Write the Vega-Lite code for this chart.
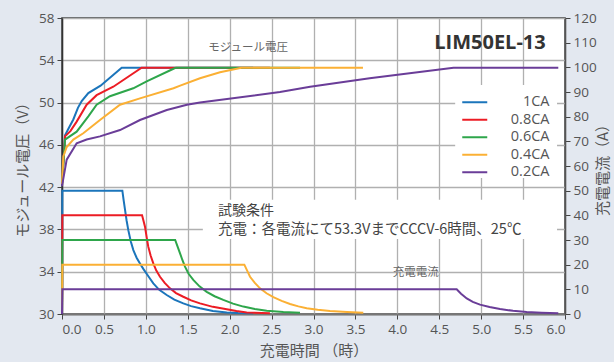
{
  "$schema": "https://vega.github.io/schema/vega-lite/v6.json",
  "width": 503,
  "height": 296,
  "autosize": {"type": "none"},
  "padding": {"left": 62, "top": 18, "right": 49, "bottom": 48},
  "background": "#e3e8f0",
  "datasets": {
    "voltage": [
      {"c": "1CA", "t": 0, "v": 42.3}, {"c": "1CA", "t": 0.036, "v": 46.9}, {"c": "1CA", "t": 0.075, "v": 47.5},
      {"c": "1CA", "t": 0.135, "v": 48.4}, {"c": "1CA", "t": 0.19, "v": 49.5}, {"c": "1CA", "t": 0.235, "v": 50.15},
      {"c": "1CA", "t": 0.314, "v": 50.9}, {"c": "1CA", "t": 0.46, "v": 51.6}, {"c": "1CA", "t": 0.712, "v": 53.3},
      {"c": "1CA", "t": 2.28, "v": 53.3},

      {"c": "0.8CA", "t": 0, "v": 42.3}, {"c": "0.8CA", "t": 0.036, "v": 46.8}, {"c": "0.8CA", "t": 0.1, "v": 47.3},
      {"c": "0.8CA", "t": 0.175, "v": 48.2}, {"c": "0.8CA", "t": 0.294, "v": 49.8}, {"c": "0.8CA", "t": 0.413, "v": 50.7},
      {"c": "0.8CA", "t": 0.612, "v": 51.5}, {"c": "0.8CA", "t": 0.95, "v": 53.3}, {"c": "0.8CA", "t": 2.48, "v": 53.3},

      {"c": "0.6CA", "t": 0, "v": 42.3}, {"c": "0.6CA", "t": 0.036, "v": 46.5}, {"c": "0.6CA", "t": 0.175, "v": 47.25},
      {"c": "0.6CA", "t": 0.314, "v": 48.7}, {"c": "0.6CA", "t": 0.413, "v": 49.8}, {"c": "0.6CA", "t": 0.572, "v": 50.6},
      {"c": "0.6CA", "t": 0.85, "v": 51.35}, {"c": "0.6CA", "t": 1.01, "v": 52.0}, {"c": "0.6CA", "t": 1.33, "v": 53.2},
      {"c": "0.6CA", "t": 1.36, "v": 53.3}, {"c": "0.6CA", "t": 2.84, "v": 53.3},

      {"c": "0.4CA", "t": 0, "v": 42.3}, {"c": "0.4CA", "t": 0.016, "v": 44.9}, {"c": "0.4CA", "t": 0.056, "v": 45.8},
      {"c": "0.4CA", "t": 0.135, "v": 46.5}, {"c": "0.4CA", "t": 0.254, "v": 47.1}, {"c": "0.4CA", "t": 0.453, "v": 48.35},
      {"c": "0.4CA", "t": 0.692, "v": 49.8}, {"c": "0.4CA", "t": 0.93, "v": 50.4}, {"c": "0.4CA", "t": 1.33, "v": 51.35},
      {"c": "0.4CA", "t": 1.41, "v": 51.6}, {"c": "0.4CA", "t": 1.646, "v": 52.3}, {"c": "0.4CA", "t": 1.885, "v": 52.86},
      {"c": "0.4CA", "t": 2.14, "v": 53.3}, {"c": "0.4CA", "t": 3.59, "v": 53.3},

      {"c": "0.2CA", "t": 0, "v": 42.1}, {"c": "0.2CA", "t": 0.056, "v": 44.6}, {"c": "0.2CA", "t": 0.175, "v": 46.15},
      {"c": "0.2CA", "t": 0.294, "v": 46.5}, {"c": "0.2CA", "t": 0.453, "v": 46.8}, {"c": "0.2CA", "t": 0.692, "v": 47.4},
      {"c": "0.2CA", "t": 0.93, "v": 48.35}, {"c": "0.2CA", "t": 1.25, "v": 49.3}, {"c": "0.2CA", "t": 1.49, "v": 49.8},
      {"c": "0.2CA", "t": 1.646, "v": 50.0}, {"c": "0.2CA", "t": 2.6, "v": 51.0}, {"c": "0.2CA", "t": 2.96, "v": 51.5},
      {"c": "0.2CA", "t": 3.67, "v": 52.3}, {"c": "0.2CA", "t": 4.67, "v": 53.3}, {"c": "0.2CA", "t": 5.92, "v": 53.3}
    ],
    "current": [
      {"c": "1CA", "t": 0, "a": 0}, {"c": "1CA", "t": 0.004, "a": 50}, {"c": "1CA", "t": 0.72, "a": 50},
      {"c": "1CA", "t": 0.736, "a": 46}, {"c": "1CA", "t": 0.752, "a": 42.2}, {"c": "1CA", "t": 0.77, "a": 38},
      {"c": "1CA", "t": 0.791, "a": 34.0}, {"c": "1CA", "t": 0.82, "a": 29.5}, {"c": "1CA", "t": 0.851, "a": 25.9},
      {"c": "1CA", "t": 0.89, "a": 22.8}, {"c": "1CA", "t": 0.93, "a": 20.5}, {"c": "1CA", "t": 0.97, "a": 18.3},
      {"c": "1CA", "t": 1.03, "a": 15.3}, {"c": "1CA", "t": 1.089, "a": 12.4}, {"c": "1CA", "t": 1.16, "a": 9.8},
      {"c": "1CA", "t": 1.249, "a": 7.7}, {"c": "1CA", "t": 1.34, "a": 5.8}, {"c": "1CA", "t": 1.447, "a": 4.3},
      {"c": "1CA", "t": 1.54, "a": 3.2}, {"c": "1CA", "t": 1.646, "a": 2.3}, {"c": "1CA", "t": 1.8, "a": 1.2},
      {"c": "1CA", "t": 1.965, "a": 0.6}, {"c": "1CA", "t": 2.1, "a": 0.4}, {"c": "1CA", "t": 2.28, "a": 0.3},

      {"c": "0.8CA", "t": 0, "a": 0}, {"c": "0.8CA", "t": 0.004, "a": 40}, {"c": "0.8CA", "t": 0.955, "a": 40},
      {"c": "0.8CA", "t": 0.972, "a": 37.8}, {"c": "0.8CA", "t": 0.99, "a": 35.4}, {"c": "0.8CA", "t": 1.009, "a": 31.3},
      {"c": "0.8CA", "t": 1.029, "a": 27.3}, {"c": "0.8CA", "t": 1.058, "a": 23.6}, {"c": "0.8CA", "t": 1.089, "a": 20.5},
      {"c": "0.8CA", "t": 1.125, "a": 17.6}, {"c": "0.8CA", "t": 1.169, "a": 15.1}, {"c": "0.8CA", "t": 1.225, "a": 12.6},
      {"c": "0.8CA", "t": 1.288, "a": 10.4}, {"c": "0.8CA", "t": 1.36, "a": 8.5}, {"c": "0.8CA", "t": 1.447, "a": 7.0},
      {"c": "0.8CA", "t": 1.54, "a": 5.5}, {"c": "0.8CA", "t": 1.646, "a": 4.3}, {"c": "0.8CA", "t": 1.8, "a": 2.9},
      {"c": "0.8CA", "t": 1.965, "a": 1.9}, {"c": "0.8CA", "t": 2.08, "a": 1.2}, {"c": "0.8CA", "t": 2.203, "a": 0.6},
      {"c": "0.8CA", "t": 2.48, "a": 0.3},

      {"c": "0.6CA", "t": 0, "a": 0}, {"c": "0.6CA", "t": 0.004, "a": 30}, {"c": "0.6CA", "t": 1.35, "a": 30},
      {"c": "0.6CA", "t": 1.38, "a": 27.2}, {"c": "0.6CA", "t": 1.408, "a": 24.6}, {"c": "0.6CA", "t": 1.437, "a": 21.8},
      {"c": "0.6CA", "t": 1.467, "a": 19.2}, {"c": "0.6CA", "t": 1.51, "a": 16.3}, {"c": "0.6CA", "t": 1.566, "a": 13.8},
      {"c": "0.6CA", "t": 1.64, "a": 11.2}, {"c": "0.6CA", "t": 1.726, "a": 9.0}, {"c": "0.6CA", "t": 1.82, "a": 7.2},
      {"c": "0.6CA", "t": 1.924, "a": 5.7}, {"c": "0.6CA", "t": 2.04, "a": 4.2}, {"c": "0.6CA", "t": 2.163, "a": 3.0},
      {"c": "0.6CA", "t": 2.3, "a": 2.0}, {"c": "0.6CA", "t": 2.442, "a": 1.3}, {"c": "0.6CA", "t": 2.64, "a": 0.8},
      {"c": "0.6CA", "t": 2.839, "a": 0.5},

      {"c": "0.4CA", "t": 0, "a": 0}, {"c": "0.4CA", "t": 0.004, "a": 20}, {"c": "0.4CA", "t": 2.175, "a": 20},
      {"c": "0.4CA", "t": 2.21, "a": 17.5}, {"c": "0.4CA", "t": 2.243, "a": 15.1}, {"c": "0.4CA", "t": 2.3, "a": 12.6},
      {"c": "0.4CA", "t": 2.362, "a": 10.4}, {"c": "0.4CA", "t": 2.44, "a": 8.4}, {"c": "0.4CA", "t": 2.521, "a": 6.8},
      {"c": "0.4CA", "t": 2.62, "a": 5.3}, {"c": "0.4CA", "t": 2.72, "a": 4.05}, {"c": "0.4CA", "t": 2.82, "a": 3.1},
      {"c": "0.4CA", "t": 2.919, "a": 2.3}, {"c": "0.4CA", "t": 3.05, "a": 1.7}, {"c": "0.4CA", "t": 3.197, "a": 1.2},
      {"c": "0.4CA", "t": 3.4, "a": 0.8}, {"c": "0.4CA", "t": 3.594, "a": 0.5},

      {"c": "0.2CA", "t": 0, "a": 0}, {"c": "0.2CA", "t": 0.004, "a": 10}, {"c": "0.2CA", "t": 4.708, "a": 10},
      {"c": "0.2CA", "t": 4.76, "a": 8.2}, {"c": "0.2CA", "t": 4.828, "a": 6.3}, {"c": "0.2CA", "t": 4.9, "a": 4.9},
      {"c": "0.2CA", "t": 4.986, "a": 3.8}, {"c": "0.2CA", "t": 5.1, "a": 2.8}, {"c": "0.2CA", "t": 5.225, "a": 2.0},
      {"c": "0.2CA", "t": 5.38, "a": 1.3}, {"c": "0.2CA", "t": 5.543, "a": 0.8}, {"c": "0.2CA", "t": 5.72, "a": 0.5},
      {"c": "0.2CA", "t": 5.92, "a": 0.3}
    ]
  },
  "layer": [
    {
      "data": {"values": [{}]},
      "mark": {"type": "rect", "fill": "white"},
      "encoding": {
        "x": {"datum": 4.69, "type": "quantitative", "title": "充電時間 （時）"},
        "x2": {"datum": 5.905},
        "y": {"datum": 51.66, "type": "quantitative", "scale": {"domain": [30, 58], "nice": false, "zero": false}, "axis": null},
        "y2": {"datum": 42.86}
      }
    },
    {
      "data": {"values": [{}]},
      "mark": {"type": "rect", "fill": "white"},
      "encoding": {
        "x": {"datum": 1.68, "type": "quantitative", "title": "充電時間 （時）"},
        "x2": {"datum": 5.905},
        "y": {"datum": 40.8, "type": "quantitative", "scale": {"domain": [30, 58], "nice": false, "zero": false}, "axis": null},
        "y2": {"datum": 37.1}
      }
    },
    {
      "data": {"name": "voltage"},
      "mark": {"type": "line", "strokeWidth": 2},
      "encoding": {
        "x": {
          "field": "t", "type": "quantitative", "title": "充電時間 （時）",
          "scale": {"domain": [0, 6], "nice": false},
          "axis": {"grid": true, "values": [0, 0.5, 1, 1.5, 2, 2.5, 3, 3.5, 4, 4.5, 5, 5.5, 6], "format": ".1f"}
        },
        "y": {
          "field": "v", "type": "quantitative", "title": "モジュール電圧（V）",
          "scale": {"domain": [30, 58], "nice": false, "zero": false},
          "axis": {"grid": true, "values": [30, 34, 38, 42, 46, 50, 54, 58]}
        },
        "color": {
          "field": "c", "type": "nominal", "title": null,
          "scale": {
            "domain": ["1CA", "0.8CA", "0.6CA", "0.4CA", "0.2CA"],
            "range": ["#1b75bb", "#ec1c24", "#2ea64b", "#fbb034", "#6a3d98"]
          }
        }
      }
    },
    {
      "data": {"values": [{}]},
      "mark": {"type": "text", "text": "モジュール電圧", "font": "Noto Sans CJK JP", "fontSize": 11.5, "color": "#666", "align": "center", "baseline": "middle"},
      "encoding": {
        "x": {"datum": 2.22, "type": "quantitative", "title": "充電時間 （時）"},
        "y": {"datum": 55.2, "type": "quantitative", "scale": {"domain": [30, 58], "nice": false, "zero": false}, "axis": null}
      }
    },
    {
      "data": {"values": [{}]},
      "mark": {"type": "text", "text": "充電電流", "font": "Noto Sans CJK JP", "fontSize": 11.5, "color": "#666", "align": "center", "baseline": "middle"},
      "encoding": {
        "x": {"datum": 4.22, "type": "quantitative", "title": "充電時間 （時）"},
        "y": {"datum": 33.88, "type": "quantitative", "scale": {"domain": [30, 58], "nice": false, "zero": false}, "axis": null}
      }
    },
    {
      "data": {"values": [{}]},
      "mark": {"type": "text", "text": "試験条件", "font": "Noto Sans CJK JP", "fontSize": 14, "color": "#444", "align": "left", "baseline": "middle"},
      "encoding": {
        "x": {"datum": 1.86, "type": "quantitative", "title": "充電時間 （時）"},
        "y": {"datum": 39.72, "type": "quantitative", "scale": {"domain": [30, 58], "nice": false, "zero": false}, "axis": null}
      }
    },
    {
      "data": {"values": [{}]},
      "mark": {"type": "text", "text": "充電：各電流にて53.3VまでCCCV-6時間、25℃", "font": "Noto Sans CJK JP", "fontSize": 14.5, "color": "#444", "align": "left", "baseline": "middle"},
      "encoding": {
        "x": {"datum": 1.86, "type": "quantitative", "title": "充電時間 （時）"},
        "y": {"datum": 37.9, "type": "quantitative", "scale": {"domain": [30, 58], "nice": false, "zero": false}, "axis": null}
      }
    },
    {
      "data": {"values": [{}]},
      "mark": {"type": "text", "text": "LIM50EL-13", "font": "Open Sans", "fontSize": 20, "fontWeight": "bold", "color": "#333", "align": "right", "baseline": "middle"},
      "encoding": {
        "x": {"datum": 5.77, "type": "quantitative", "title": "充電時間 （時）"},
        "y": {"datum": 55.63, "type": "quantitative", "scale": {"domain": [30, 58], "nice": false, "zero": false}, "axis": null}
      }
    },
    {
      "data": {"name": "current"},
      "mark": {"type": "line", "strokeWidth": 2},
      "encoding": {
        "x": {"field": "t", "type": "quantitative", "title": "充電時間 （時）"},
        "y": {
          "field": "a", "type": "quantitative", "title": "充電電流（A）",
          "scale": {"domain": [0, 120], "nice": false},
          "axis": {"orient": "right", "grid": false, "values": [0, 10, 20, 30, 40, 50, 60, 70, 80, 90, 100, 110, 120], "titleAngle": -90}
        },
        "color": {"field": "c", "type": "nominal", "title": null}
      }
    }
  ],
  "resolve": {"scale": {"y": "independent"}},
  "config": {
    "view": {"stroke": "#333", "strokeWidth": 1.5, "fill": "white"},
    "axis": {
      "zindex": 1,
      "gridColor": "#b0b0b0", "gridWidth": 1.3,
      "labelFont": "Open Sans", "labelFontSize": 13.5, "labelColor": "#555",
      "titleFont": "Noto Sans CJK JP", "titleFontSize": 15, "titleFontWeight": "normal", "titleColor": "#555",
      "tickColor": "#444", "tickSize": 5, "labelPadding": 3
    },
    "axisX": {"domainColor": "#777", "domainWidth": 2, "titlePadding": 8},
    "axisLeft": {"domainColor": "#333", "domainWidth": 1.5, "titlePadding": 8},
    "axisRight": {"domainColor": "#555", "domainWidth": 1.5, "titlePadding": 14},
    "legend": {
      "orient": "none", "legendX": 405.5, "legendY": 77, "padding": 0,
      "symbolType": "M-2.5,0H2.5", "symbolSize": 100, "symbolStrokeWidth": 2,
      "labelFont": "Open Sans", "labelFontSize": 14.5, "labelColor": "#555",
      "labelAlign": "right", "labelOffset": 67.5, "rowPadding": 2.5
    }
  }
}
